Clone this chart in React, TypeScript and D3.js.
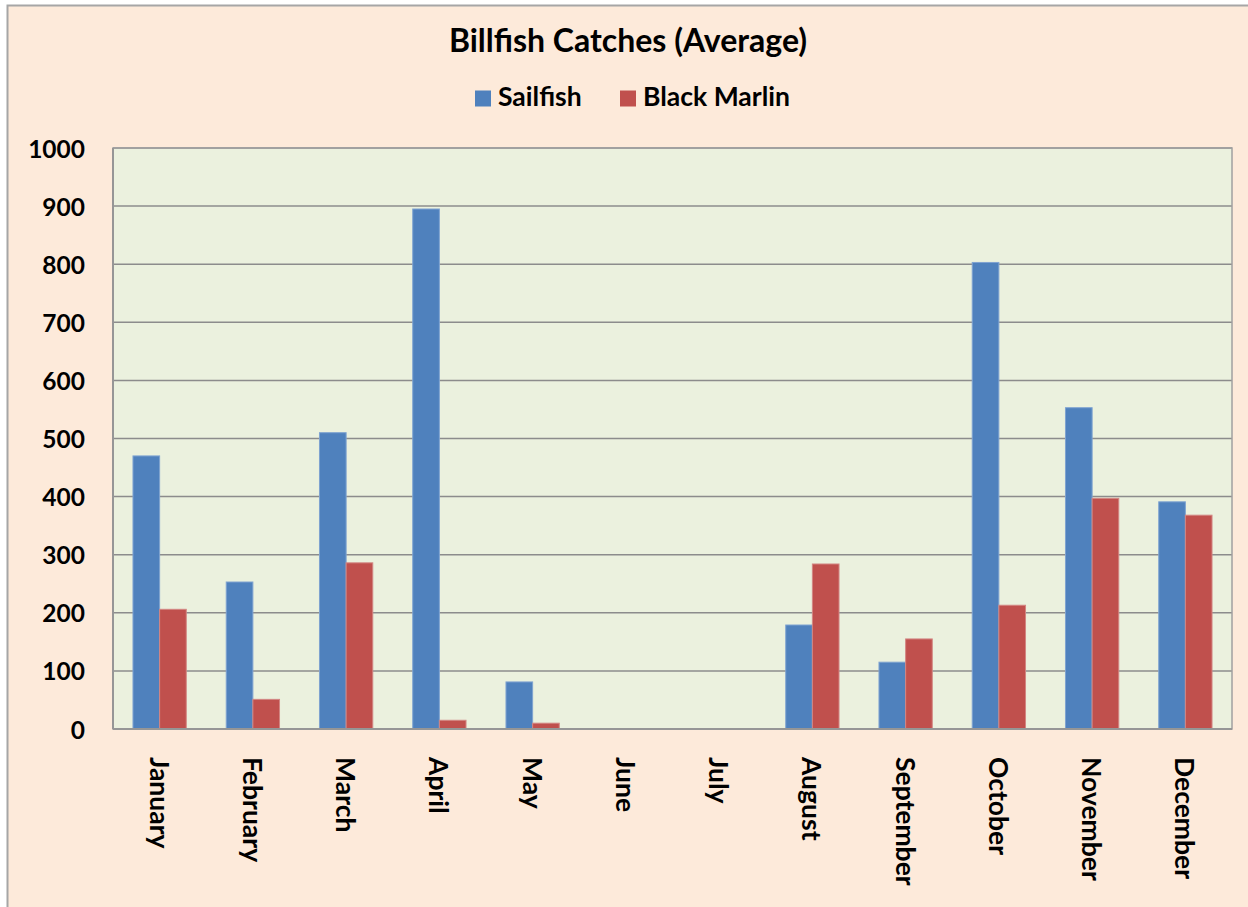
import * as React from "react";
import * as d3 from "d3";

const months = ["January", "February", "March", "April", "May", "June", "July", "August", "September", "October", "November", "December"];
const sailfish = [470, 253, 510, 895, 81, 0, 0, 179, 115, 803, 553, 391];
const blackMarlin = [206, 51, 286, 15, 10, 0, 0, 284, 155, 213, 397, 368];
const seriesNames = ["Sailfish", "Black Marlin"];
const yTicks = [0, 100, 200, 300, 400, 500, 600, 700, 800, 900, 1000];

const W = 1248;
const H = 907;
const plot = { left: 113, top: 148, right: 1232, bottom: 729 };
const colors = ["#4F81BD", "#C0504D"];
const strokes = ["#7FA3D1", "#D38683"];
const font = "Lato, 'Open Sans', sans-serif";

export default function App() {
    const x = d3.scaleBand<string>().domain(months).range([plot.left, plot.right]).paddingInner(0).paddingOuter(0);
    const bw = x.bandwidth() / 3.5; // gap width 150%
    const y = d3.scaleLinear().domain([0, 1000]).range([plot.bottom, plot.top]);
    const data = [sailfish, blackMarlin];

    const bars = data.map((vals, s) =>
        vals.map((v, i) => {
            if (v <= 0) return null;
            const x0 = (x(months[i]) || 0) + bw * 0.75 + s * bw;
            return <rect key={`${s}-${i}`} x={x0} y={y(v)} width={bw} height={y(0) - y(v)}
                fill={colors[s]} stroke={strokes[s]} strokeWidth={1} />;
        })
    );

    return <svg width={W} height={H} style={{ position: "absolute", left: 0, top: 0 }}>
        <rect x={0} y={0} width={W} height={H} fill="#ffffff" />
        <rect x={7.5} y={5.5} width={W + 10} height={H + 10} fill="#FDEADA" stroke="#A6A6A6" strokeWidth={2} />

        <text x={628} y={52} textAnchor="middle" fontFamily={font} fontWeight="bold" fontSize={32} fill="#000">Billfish Catches (Average)</text>

        <g fontFamily={font} fontWeight="bold" fontSize={26.5} fill="#000">
            <rect x={475} y={90.5} width={16} height={16} fill={colors[0]} />
            <text x={498} y={106}>{seriesNames[0]}</text>
            <rect x={620} y={90.5} width={16} height={16} fill={colors[1]} />
            <text x={643} y={106}>{seriesNames[1]}</text>
        </g>

        <rect x={plot.left} y={plot.top} width={plot.right - plot.left} height={plot.bottom - plot.top} fill="#EBF1DE" />
        {yTicks.slice(1).map(t =>
            <line key={t} x1={plot.left} x2={plot.right} y1={y(t)} y2={y(t)} stroke="#8C8C8C" strokeWidth={1.5} />
        )}
        {bars}
        <rect x={plot.left} y={plot.top} width={plot.right - plot.left} height={plot.bottom - plot.top} fill="none" stroke="#A0A0A0" strokeWidth={1.5} />
        <line x1={plot.left} x2={plot.left} y1={plot.top} y2={plot.bottom} stroke="#969696" strokeWidth={2} />
        <line x1={plot.left} x2={plot.right} y1={plot.bottom} y2={plot.bottom} stroke="#969696" strokeWidth={2} />

        <g fontFamily={font} fontWeight="bold" fontSize={24.5} fill="#000" textAnchor="end">
            {yTicks.map(t =>
                <text key={t} x={85} y={y(t)} dominantBaseline="central">{t}</text>
            )}
        </g>

        <g fontFamily={font} fontWeight="bold" fontSize={26.5} fill="#000">
            {months.map(m => {
                const cx = (x(m) || 0) + x.bandwidth() / 2;
                return <text key={m} transform={`translate(${cx},757) rotate(90)`} dominantBaseline="central">{m}</text>;
            })}
        </g>
    </svg>;
}
